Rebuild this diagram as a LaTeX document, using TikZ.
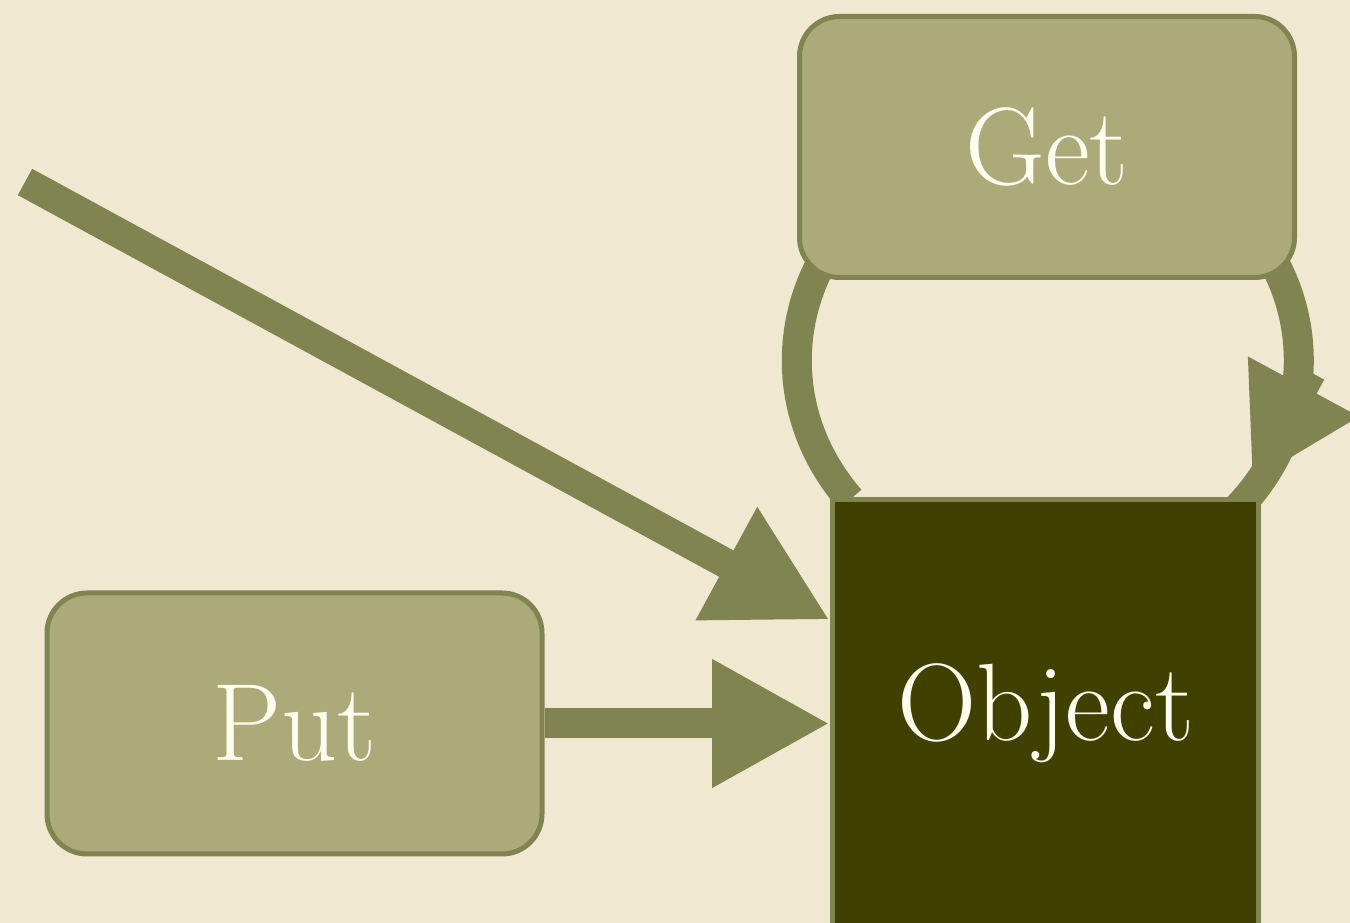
\documentclass[tikz,border=0pt]{standalone}
\usepackage{fontspec}
\usetikzlibrary{arrows.meta}
\pgfdeclarelayer{background}
\pgfsetlayers{background,main}
\definecolor{paper}{RGB}{240,232,208}
\definecolor{sage}{RGB}{171,170,120}
\definecolor{olive}{RGB}{128,132,80}
\definecolor{bark}{RGB}{64,64,0}
\definecolor{chalk}{RGB}{255,253,240}
\tikzset{
  label font/.style={text=chalk, font=\fontsize{110}{110}\selectfont},
  box/.style={draw=olive, line width=5pt, fill=sage, rounded corners=40pt,
    minimum width=495pt, minimum height=261pt, label font},
  objbox/.style={draw=olive, line width=5pt, fill=bark,
    minimum size=426pt, label font},
  flow/.style={draw=olive, line width=30pt,
    -{Triangle[length=118pt,width=120pt]}},
  loopflow/.style={draw=olive, line width=30pt},
  loop arc/.style={x radius=251pt, y radius=226pt, start angle=218}
}
\begin{document}
\begin{tikzpicture}[x=1pt,y=1pt]
  \useasboundingbox (0,0) rectangle (1350,923);
  \node[box] (get) at (1047,776) {Get};
  \node[box] (put) at (294.5,199.5) {Put};
  \node[objbox] (obj) at (1045.5,210) {Object};
  \coordinate (src) at (25,741);
  \coordinate (loopstart) at ([xshift=20pt,yshift=-2pt]obj.north west);
  \coordinate (loopback) at ([shift={(50,125)}]obj.north east);
  \coordinate (looptip) at ([shift={(-9,16)}]obj.north east);
  \begin{pgfonlayer}{background}
    \fill[paper] (0,0) rectangle (1350,923);
    % self loop, passing behind Get
    \draw[loopflow] (loopstart) arc[loop arc, end angle=-48];
    \draw[loopflow, -{Triangle[length=108pt,width=118pt]}]
      (loopback) -- (looptip);
  \end{pgfonlayer}
  \draw[flow] (put.east) -- (put.east -| obj.west);
  \draw[flow] (src) -- ([yshift=93pt]obj.west);
\end{tikzpicture}
\end{document}
